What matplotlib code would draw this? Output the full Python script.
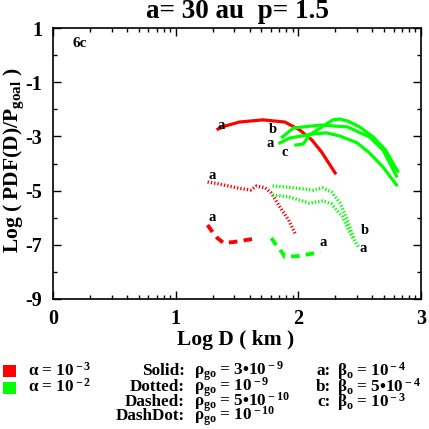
import numpy as np
import matplotlib
matplotlib.use("Agg")
import matplotlib.pyplot as plt
from matplotlib.patches import Rectangle

plt.rcParams['font.family'] = ['Liberation Serif', 'DejaVu Serif']
plt.rcParams['font.weight'] = 'bold'
plt.rcParams['axes.unicode_minus'] = False
plt.rcParams['mathtext.fontset'] = 'custom'
plt.rcParams['mathtext.rm'] = 'Liberation Serif:bold'
plt.rcParams['mathtext.it'] = 'Liberation Serif:bold'
plt.rcParams['mathtext.bf'] = 'Liberation Serif:bold'

# ---- data (log D, log PDF) ----
red_solid_x = [1.345, 1.40, 1.52, 1.71, 1.89, 2.01, 2.11, 2.19, 2.30]
red_solid_y = [-2.73, -2.62, -2.47, -2.39, -2.47, -2.76, -3.13, -3.58, -4.35]

green_solid_a_x = [1.85, 1.93, 2.12, 2.23, 2.34, 2.48, 2.58, 2.69, 2.80]
green_solid_a_y = [-3.24, -3.06, -2.91, -2.87, -2.99, -3.24, -3.61, -4.13, -4.79]
green_solid_b_x = [1.87, 1.96, 2.18, 2.40, 2.58, 2.69, 2.80]
green_solid_b_y = [-3.02, -2.69, -2.58, -2.65, -3.02, -3.50, -4.46]
green_solid_c_x = [1.98, 2.04, 2.09, 2.18, 2.28, 2.34, 2.40, 2.50, 2.61, 2.71, 2.81]
green_solid_c_y = [-3.32, -3.28, -2.95, -2.69, -2.39, -2.36, -2.43, -2.65, -3.02, -3.50, -4.28]

red_dotted_x = [1.26, 1.36, 1.50, 1.61, 1.66, 1.73, 1.78, 1.85, 1.92, 1.98]
red_dotted_y = [-4.68, -4.76, -4.90, -4.98, -4.83, -4.90, -5.09, -5.61, -6.08, -6.64]

green_dotted_b_x = [1.79, 1.91, 2.04, 2.12, 2.20, 2.27, 2.34, 2.40, 2.45]
green_dotted_b_y = [-4.83, -4.87, -4.94, -4.98, -4.90, -5.05, -5.46, -6.08, -6.75]
green_dotted_a_x = [1.79, 1.93, 2.09, 2.20, 2.27, 2.36, 2.42, 2.49]
green_dotted_a_y = [-5.16, -5.24, -5.46, -5.38, -5.49, -5.97, -6.56, -7.08]

red_dashed_x = [1.26, 1.30, 1.34, 1.39, 1.47, 1.58, 1.67]
red_dashed_y = [-6.27, -6.53, -6.75, -6.93, -6.90, -6.82, -6.75]

green_dashed_x = [1.78, 1.83, 1.87, 1.89, 2.01, 2.18]
green_dashed_y = [-6.75, -7.08, -7.30, -7.45, -7.41, -7.27]

curve_labels = ['a', 'b', 'a', 'c', 'a', 'a', 'b', 'a', 'a']
label_x = [1.37, 1.79, 1.77, 1.89, 1.30, 1.30, 2.54, 2.53, 2.20]
label_y = [-2.58, -2.76, -3.28, -3.58, -4.46, -6.01, -6.49, -7.15, -6.93]

x_ticks = [0, 1, 2, 3]
y_ticks = [1, -1, -3, -5, -7, -9]

RED = '#ff0000'
GREEN = '#00ff00'

W = H = 429
fig = plt.figure(figsize=(W / 100, H / 100), dpi=100)
ax = fig.add_axes([53 / W, 1 - 299 / H, (421 - 53) / W, (299 - 28) / H])


def fx(px):
    return px / W


def fy(py):
    return 1 - py / H


lw_s = 2.3
ax.plot(red_solid_x, red_solid_y, color=RED, lw=lw_s)
for xs, ys in [(green_solid_a_x, green_solid_a_y), (green_solid_b_x, green_solid_b_y),
               (green_solid_c_x, green_solid_c_y)]:
    ax.plot(xs, ys, color=GREEN, lw=lw_s)

dot_style = dict(lw=2.4, linestyle=(0, (0.4, 0.6)), dash_capstyle='butt')
ax.plot(red_dotted_x, red_dotted_y, color=RED, **dot_style)
ax.plot(green_dotted_b_x, green_dotted_b_y, color=GREEN, **dot_style)
ax.plot(green_dotted_a_x, green_dotted_a_y, color=GREEN, **dot_style)

dash_style = dict(lw=2.8, linestyle=(0, (2.2, 1.6)), dash_capstyle='butt')
ax.plot(red_dashed_x, red_dashed_y, color=RED, **dash_style)
ax.plot(green_dashed_x, green_dashed_y, color=GREEN, **dash_style)

for t, x, y in zip(curve_labels, label_x, label_y):
    ax.text(x, y, t, fontsize=10.5, fontweight='bold', ha='center', va='center')

ax.text(0.22, 0.41, '6c', fontsize=11, fontweight='bold', ha='center', va='center')

ax.set_xlim(0, 3)
ax.set_ylim(-9, 1)
ax.set_xticks(x_ticks)
ax.set_xticklabels([str(v) for v in x_ticks])
ax.set_yticks(y_ticks)
ax.set_yticklabels([str(v) for v in y_ticks])
minor_x = [n + np.log10(k) for n in range(3) for k in range(2, 10)]
ax.set_xticks(minor_x, minor=True)
ax.set_yticks([0, -2, -4, -6, -8], minor=True)
ax.tick_params(which='both', direction='in', top=True, right=True, width=1.0)
ax.tick_params(which='major', length=6, labelsize=14.5)
ax.tick_params(axis='x', which='major', pad=7)
ax.tick_params(axis='y', which='major', pad=8)
ax.tick_params(which='minor', length=3)
for lab in ax.get_xticklabels() + ax.get_yticklabels():
    lab.set_fontweight('bold')
for s in ax.spines.values():
    s.set_linewidth(1.2)

fig.text(fx(236), fy(340), 'Log D ( km )', fontsize=15.5, fontweight='bold',
         ha='center', va='center')
fig.text(fx(14), fy(160), r'Log ( PDF(D)/P$_{\rm goal}$ )', fontsize=15.5,
         fontweight='bold', ha='center', va='center', rotation=90)

fig.text(fx(238), fy(12), 'a= 30 au  p= 1.5', fontsize=19.5, fontweight='bold',
         ha='center', va='center')

# legend block
fs = 12.3
fig.patches.append(Rectangle((fx(3), fy(377)), 13 / W, 12 / H, transform=fig.transFigure,
                             facecolor=RED, edgecolor='none'))
fig.patches.append(Rectangle((fx(3), fy(394)), 13 / W, 12 / H, transform=fig.transFigure,
                             facecolor=GREEN, edgecolor='none'))
rows = [371, 387, 402, 416]
fig.text(fx(28), fy(rows[0]), r'$\alpha$ = 10$^{\rm -3}$', fontsize=fs, ha='left', va='center')
fig.text(fx(28), fy(rows[1]), r'$\alpha$ = 10$^{\rm -2}$', fontsize=fs, ha='left', va='center')

names = ['Solid:', 'Dotted:', 'Dashed:', 'DashDot:']
rhos = [r'$\rho_{\rm go}$ = 3•10$^{\rm -9}$', r'$\rho_{\rm go}$ = 10$^{\rm -9}$',
        r'$\rho_{\rm go}$ = 5•10$^{\rm -10}$', r'$\rho_{\rm go}$ = 10$^{\rm -10}$']
for r, n, rh in zip(rows, names, rhos):
    fig.text(fx(185), fy(r), n, fontsize=fs, ha='right', va='center')
    fig.text(fx(194), fy(r), rh, fontsize=fs, ha='left', va='center')

keys = ['a:', 'b:', 'c:']
betas = [r'$\beta_{\rm o}$ = 10$^{\rm -4}$', r'$\beta_{\rm o}$ = 5•10$^{\rm -4}$',
         r'$\beta_{\rm o}$ = 10$^{\rm -3}$']
for r, k, b in zip(rows, keys, betas):
    fig.text(fx(331), fy(r), k, fontsize=fs, ha='right', va='center')
    fig.text(fx(337), fy(r), b, fontsize=fs, ha='left', va='center')

fig.savefig('out.png', dpi=100)
